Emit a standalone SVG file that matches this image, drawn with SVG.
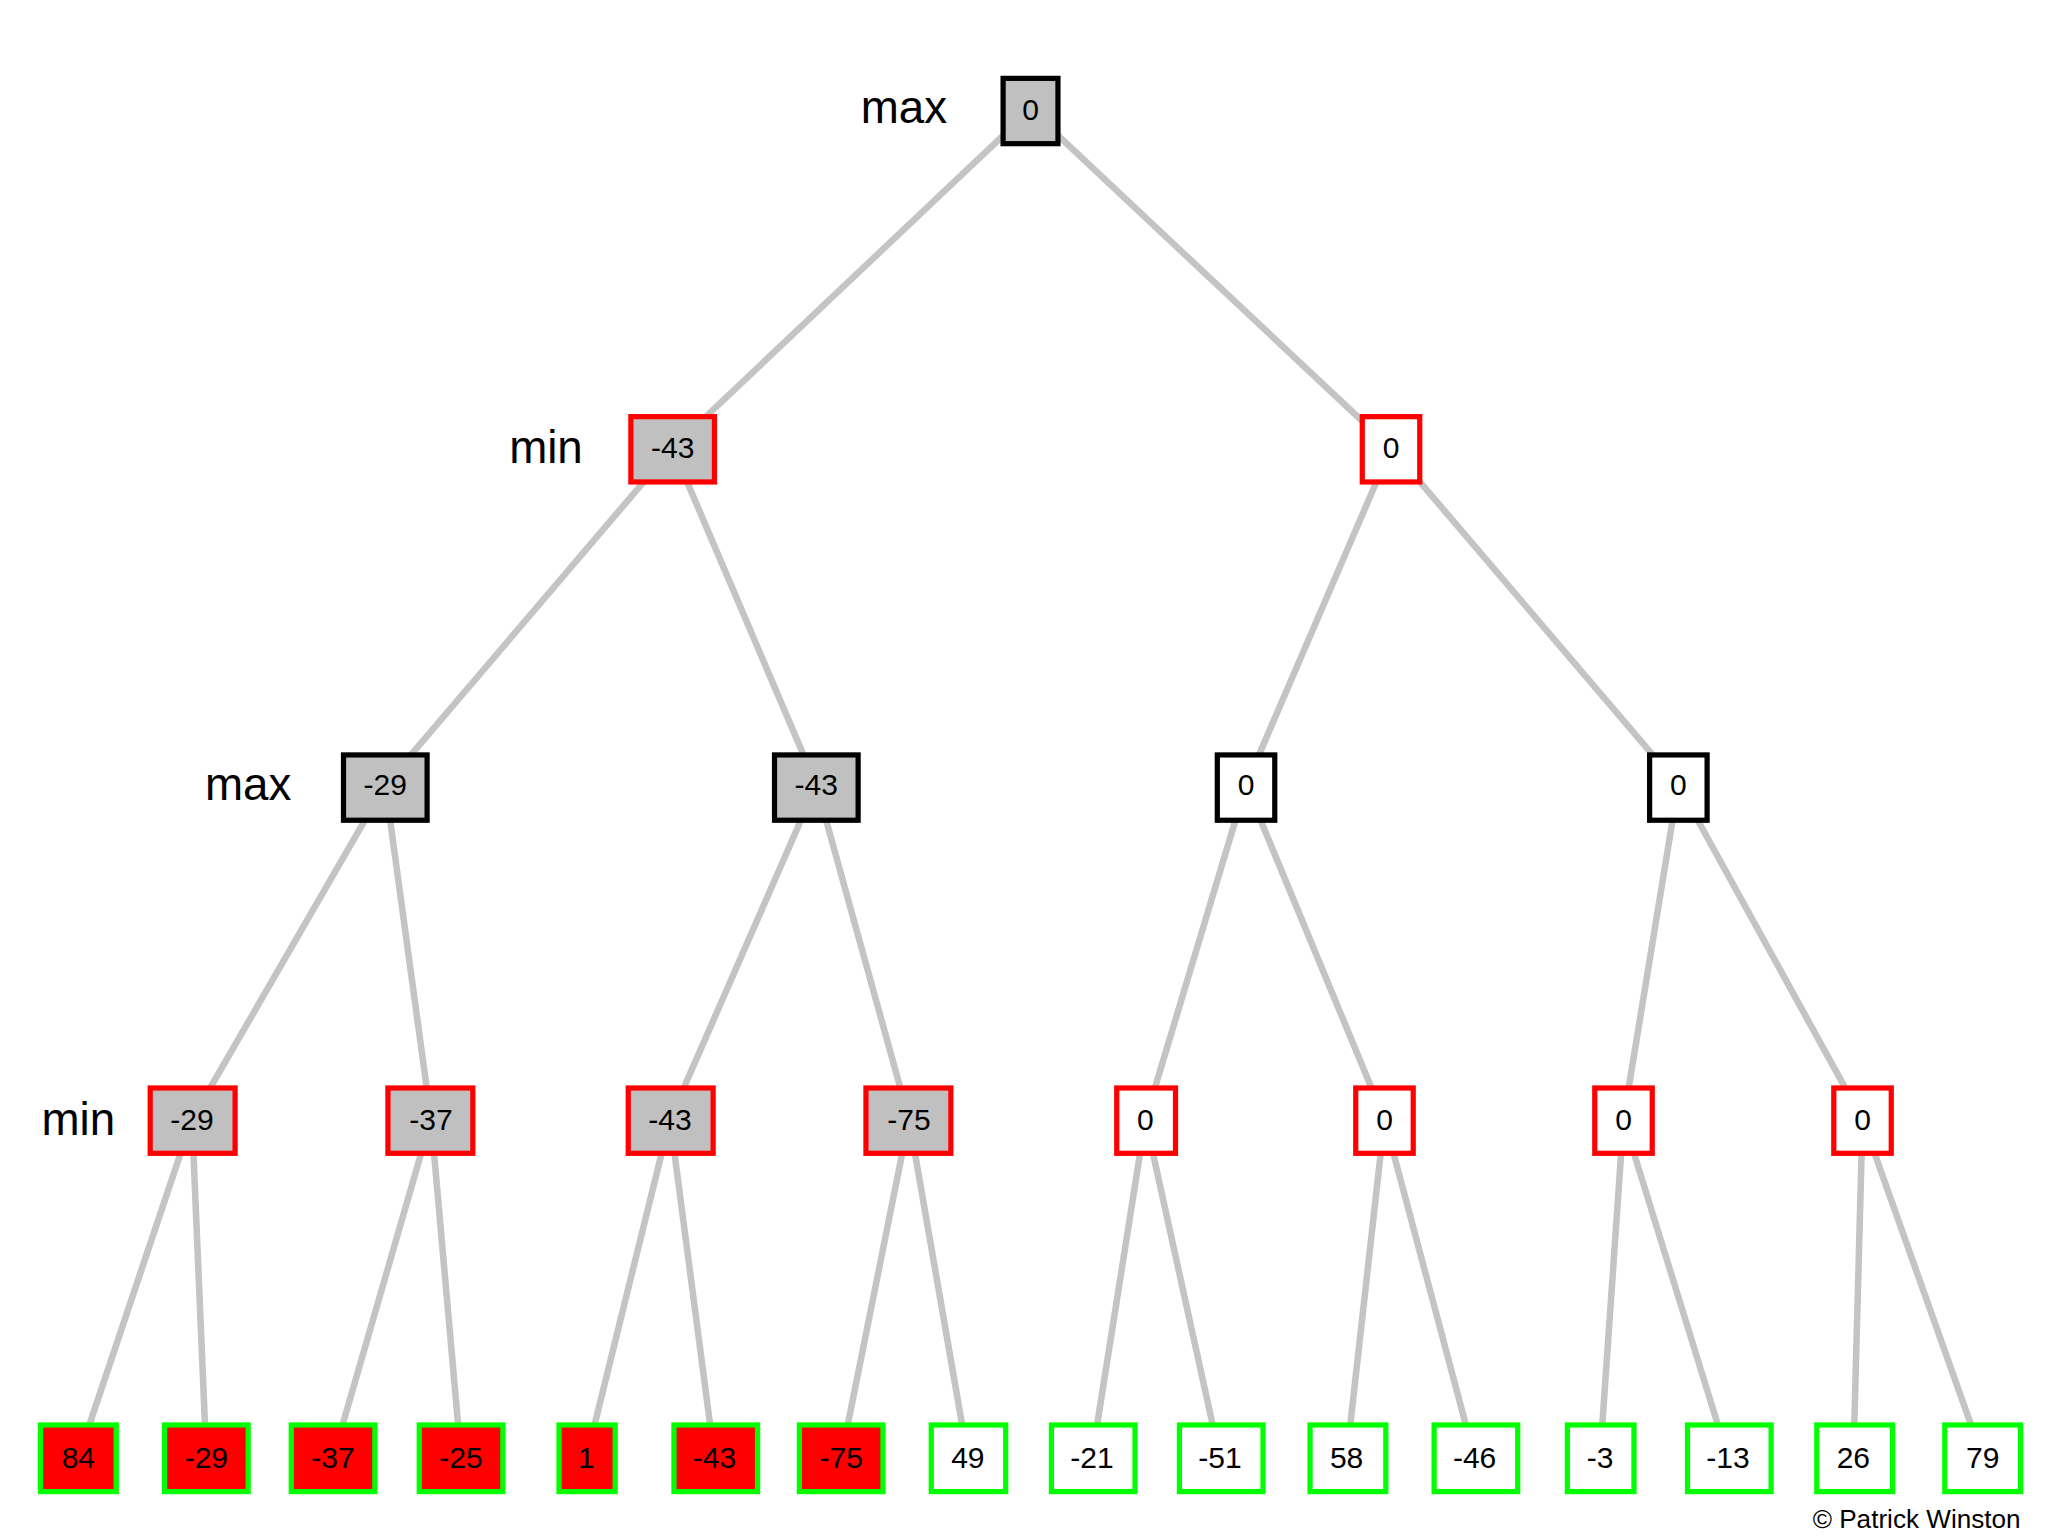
<svg xmlns="http://www.w3.org/2000/svg" width="2048" height="1536" viewBox="0 0 2048 1536">
<style>
.e{stroke:#c4c4c4;stroke-width:5;fill:none}
.b{stroke-width:4}
.t{font-family:"Liberation Sans",Arial,sans-serif;font-size:23px;text-anchor:middle;dominant-baseline:central;fill:#000}
.l{font-family:"Liberation Sans",Arial,sans-serif;font-size:35px;text-anchor:middle;dominant-baseline:central;fill:#000}
.gk{fill:#c0c0c0;stroke:#000}
.gr{fill:#c0c0c0;stroke:#ff0000}
.wr{fill:#fff;stroke:#ff0000}
.wk{fill:#fff;stroke:#000}
.rg{fill:#ff0000;stroke:#00ff00}
.wg{fill:#fff;stroke:#00ff00}
</style>
<rect width="2048" height="1536" fill="#fff"/>
<g transform="scale(1.30612)">
<g id="connectors" class="e">
<line x1="789" y1="84" x2="515" y2="343"/><line x1="789" y1="84" x2="1065" y2="343"/>
<line x1="515" y1="343" x2="295" y2="601"/><line x1="515" y1="343" x2="625" y2="601"/>
<line x1="1065" y1="343" x2="954" y2="601"/><line x1="1065" y1="343" x2="1285" y2="601"/>
<line x1="295" y1="601" x2="147" y2="857"/><line x1="295" y1="601" x2="330" y2="857"/>
<line x1="625" y1="601" x2="513" y2="857"/><line x1="625" y1="601" x2="696" y2="857"/>
<line x1="954" y1="601" x2="877" y2="857"/><line x1="954" y1="601" x2="1060" y2="857"/>
<line x1="1285" y1="601" x2="1243" y2="857"/><line x1="1285" y1="601" x2="1426" y2="857"/>
<line x1="147" y1="857" x2="60" y2="1116"/><line x1="147" y1="857" x2="158" y2="1116"/>
<line x1="330" y1="857" x2="255" y2="1116"/><line x1="330" y1="857" x2="353" y2="1116"/>
<line x1="513" y1="857" x2="449" y2="1116"/><line x1="513" y1="857" x2="547" y2="1116"/>
<line x1="696" y1="857" x2="644" y2="1116"/><line x1="696" y1="857" x2="741" y2="1116"/>
<line x1="877" y1="857" x2="836" y2="1116"/><line x1="877" y1="857" x2="934" y2="1116"/>
<line x1="1060" y1="857" x2="1031" y2="1116"/><line x1="1060" y1="857" x2="1129" y2="1116"/>
<line x1="1243" y1="857" x2="1225" y2="1116"/><line x1="1243" y1="857" x2="1323" y2="1116"/>
<line x1="1426" y1="857" x2="1419" y2="1116"/><line x1="1426" y1="857" x2="1518" y2="1116"/>
</g>
<g id="labels">
<text class="l" x="692" y="82">max</text>
<text class="l" x="418" y="343">min</text>
<text class="l" x="190" y="601">max</text>
<text class="l" x="60" y="857">min</text>
</g>
<g id="n0"><rect class="b gk" x="768" y="60" width="42" height="50"/><text class="t" x="789" y="84">0</text></g>
<g id="n1"><rect class="b gr" x="483" y="319" width="64" height="50"/><text class="t" x="515" y="343">-43</text></g>
<g id="n2"><rect class="b wr" x="1043" y="319" width="44" height="50"/><text class="t" x="1065" y="343">0</text></g>
<g id="n3"><rect class="b gk" x="263" y="578" width="64" height="50"/><text class="t" x="295" y="601">-29</text></g>
<g id="n4"><rect class="b gk" x="593" y="578" width="64" height="50"/><text class="t" x="625" y="601">-43</text></g>
<g id="n5"><rect class="b wk" x="932" y="578" width="44" height="50"/><text class="t" x="954" y="601">0</text></g>
<g id="n6"><rect class="b wk" x="1263" y="578" width="44" height="50"/><text class="t" x="1285" y="601">0</text></g>
<g id="n7"><rect class="b gr" x="115" y="833" width="65" height="50"/><text class="t" x="147" y="857">-29</text></g>
<g id="n8"><rect class="b gr" x="297" y="833" width="65" height="50"/><text class="t" x="330" y="857">-37</text></g>
<g id="n9"><rect class="b gr" x="481" y="833" width="65" height="50"/><text class="t" x="513" y="857">-43</text></g>
<g id="n10"><rect class="b gr" x="663" y="833" width="65" height="50"/><text class="t" x="696" y="857">-75</text></g>
<g id="n11"><rect class="b wr" x="855" y="833" width="45" height="50"/><text class="t" x="877" y="857">0</text></g>
<g id="n12"><rect class="b wr" x="1038" y="833" width="44" height="50"/><text class="t" x="1060" y="857">0</text></g>
<g id="n13"><rect class="b wr" x="1221" y="833" width="44" height="50"/><text class="t" x="1243" y="857">0</text></g>
<g id="n14"><rect class="b wr" x="1404" y="833" width="44" height="50"/><text class="t" x="1426" y="857">0</text></g>
<g id="l1"><rect class="b rg" x="31" y="1091" width="58" height="51"/><text class="t" x="60" y="1116">84</text></g>
<g id="l2"><rect class="b rg" x="126" y="1091" width="64" height="51"/><text class="t" x="158" y="1116">-29</text></g>
<g id="l3"><rect class="b rg" x="223" y="1091" width="64" height="51"/><text class="t" x="255" y="1116">-37</text></g>
<g id="l4"><rect class="b rg" x="321" y="1091" width="64" height="51"/><text class="t" x="353" y="1116">-25</text></g>
<g id="l5"><rect class="b rg" x="428" y="1091" width="43" height="51"/><text class="t" x="449" y="1116">1</text></g>
<g id="l6"><rect class="b rg" x="516" y="1091" width="64" height="51"/><text class="t" x="547" y="1116">-43</text></g>
<g id="l7"><rect class="b rg" x="612" y="1091" width="64" height="51"/><text class="t" x="644" y="1116">-75</text></g>
<g id="l8"><rect class="b wg" x="713" y="1091" width="57" height="51"/><text class="t" x="741" y="1116">49</text></g>
<g id="l9"><rect class="b wg" x="805" y="1091" width="64" height="51"/><text class="t" x="836" y="1116">-21</text></g>
<g id="l10"><rect class="b wg" x="903" y="1091" width="64" height="51"/><text class="t" x="934" y="1116">-51</text></g>
<g id="l11"><rect class="b wg" x="1003" y="1091" width="58" height="51"/><text class="t" x="1031" y="1116">58</text></g>
<g id="l12"><rect class="b wg" x="1098" y="1091" width="64" height="51"/><text class="t" x="1129" y="1116">-46</text></g>
<g id="l13"><rect class="b wg" x="1200" y="1091" width="51" height="51"/><text class="t" x="1225" y="1116">-3</text></g>
<g id="l14"><rect class="b wg" x="1292" y="1091" width="64" height="51"/><text class="t" x="1323" y="1116">-13</text></g>
<g id="l15"><rect class="b wg" x="1391" y="1091" width="58" height="51"/><text class="t" x="1419" y="1116">26</text></g>
<g id="l16"><rect class="b wg" x="1489" y="1091" width="58" height="51"/><text class="t" x="1518" y="1116">79</text></g>
<text x="1547" y="1163" font-family="Liberation Sans,Arial,sans-serif" font-size="20" text-anchor="end" dominant-baseline="central">© Patrick Winston</text>
</g>
</svg>
